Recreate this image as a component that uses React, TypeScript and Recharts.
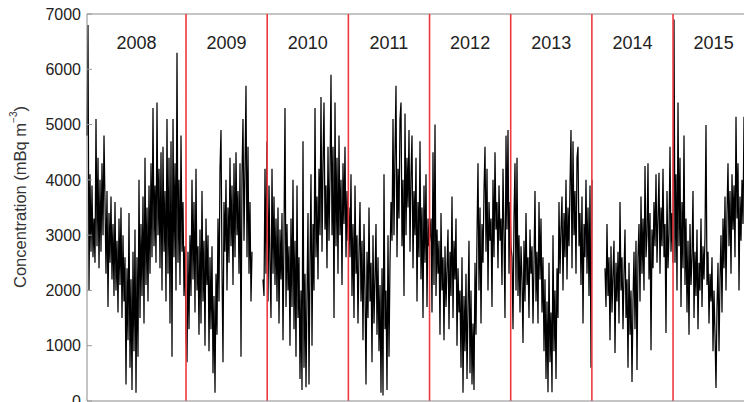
import { LineChart, Line, XAxis, YAxis, ReferenceLine, ReferenceDot } from "recharts";

// readings, one every ~4.5 days (mBq m-3); null = no data
const late2007 = [4800, 6800, 2000, 4100, 2700, 3900, 2600, 3300, 2500, 5100, 2800, 4400, 2400, 4000, 2700, 4300, 3000, 4800];

const y2008 = [
  3600, 2300, 3800, 1700, 3400, 2500, 3700, 2200,
  3200, 1900, 3600, 2000, 2900, 1600, 3300, 2100, 3500, 1500, 3000, 1800,
  2600, 300, 2400, 1100, 3400, 600, 2200, 200, 2700, 900, 3100, 150,
  2600, 800, 4000, 1500, 3200, 1900, 3700, 1400, 4400, 2100, 3500, 1800, 3900, 2300,
  4300, 2600, 5300, 2800, 3900, 2500, 5400, 3000, 4200, 2400, 4500, 2000, 4600, 2700, 3800, 1800,
  5100, 2300, 4400, 1400, 4700, 800, 5100, 2600, 4300, 2000, 6300, 2500, 4000, 2100, 4800, 2700,
  3600, 1900, 2800, 1200,
];

const y2009 = [
  700, 2700, 1300, 3000, 1900, 4000, 2200, 3600, 1600, 4200, 2000, 2800, 1200, 3100,
  1400, 3800, 1800, 2900, 1000, 3300, 2100, 3000, 900, 2600, 1300, 2800, 500, 1900, 150, 2300,
  1200, 3300, 1800, 4200, 4900, 2400, 700, 3600, 2700, 4000, 2000, 3500, 2500, 4400,
  2800, 3900, 2100, 4300, 2600, 4500, 3000, 3800, 2300, 4300, 800, 4100, 5100, 2900, 4200, 5700,
  2600, 4600, 2300, 3600, 1800, 2700,
];

const gap2009 = [null, null, null, null, null, null, null, null, null, null];

const y2010 = [
  2200, 1900, 4200, 2300, 4700, 1800, 3900, 2500, 1500, 4200, 2300, 3700, 2100, 3300,
  1800, 3500, 1400, 3100, 2200, 3400, 1100, 3000, 5300, 1700, 3200, 2000, 2800, 1000, 3300, 1700,
  4000, 1300, 2900, 800, 3900, 1500, 2600, 400, 2000, 200, 4700, 600, 2300, 250, 1900, 3400, 300, 2500,
  4100, 1000, 3200, 2000, 5300, 2600, 3700, 2200, 4200, 3000, 5500, 2700, 4300, 5400, 3100, 3900,
  2400, 4600, 2900, 4100,
  5900, 3000, 4600, 1500, 5400, 2800, 4400, 2300, 4800, 3000, 4000, 2100, 4300, 3200, 4600, 2600,
  3800, 2900, 3500,
];

const y2011 = [
  2600, 4100, 1900, 3200, 1500, 3900, 2300, 3000, 1400, 2700, 3600, 1800, 2900, 1100, 3200, 2000,
  300, 2700, 1500, 3500, 1800, 2500, 700, 3000, 1400, 2200, 3200, 1200, 2600, 900, 2100,
  150, 2400, 100, 4100, 1300, 2000, 200, 3000, 800, 2500, 3600, 2900,
  5100, 3000, 4500, 5700, 2600, 4200, 3300, 5100, 5400, 2800, 4000, 1900,
  5200, 3000, 4400, 3500, 4900, 2700, 4100, 4800, 2400, 3800, 3000, 4400, 1800, 3600, 2600, 4700,
  2200, 3500, 1500, 3900, 2500, 4100, 1700, 3300, 2800, 3000,
];

const y2012 = [
  3300, 1600, 4500, 2100, 5000, 1900, 3100, 2300, 2900, 1200, 3400, 2000, 2600, 1100,
  2800, 1700, 2400, 3100, 1300, 2700, 1900, 3700, 1500, 2900, 2200, 3300, 1000, 2400, 1600, 2000,
  600, 2600, 150, 1900, 900, 2300, 400, 1700, 2900, 500, 2000, 300, 1400, 200, 2500, 1200,
  3000, 4300, 2000, 3500, 1400, 3200, 2500, 3800, 4600, 2700, 4200, 2000, 3600, 2900, 3300, 1700,
  4000, 2600, 4500, 3100, 3600, 2400, 3900, 2900, 3300, 2100, 4200, 3000, 1500, 4800, 3100, 4900,
  2300, 3600, 2800,
];

const y2013 = [
  2600, 1300, 3300, 4300, 2000, 4400, 1900, 3000, 1600, 2800, 2200, 1050, 2900, 1800,
  3400, 2100, 2600, 1500, 3100, 2300, 2800, 1400, 2500, 3800, 1800, 2700, 1400, 3600, 2200, 3300,
  1600, 2600, 900, 2200, 400, 1800, 160, 2500, 700, 1600, 160, 3000, 900, 2000, 400, 2400,
  1500, 3600, 2300, 3100, 3700, 2000, 3400, 2600, 4000, 2200, 3500, 2800, 3900, 4900, 2400, 4700,
  3000, 3800, 2300, 4400, 4600, 2800, 3400, 2100, 3700, 1400, 3200, 2600, 4000, 2300, 3500, 1900,
  3900, 600, 4000,
];

const gap2013 = [null, null, null, null, null, null, null, null, null, null, null, null];

const y2014 = [
  2400, 1700, 3200, 1900, 2600, 1100, 2800, 1600, 2300, 2900, 870, 2500, 1800, 2700, 1400, 3600,
  2000, 2600, 1300, 2300, 3100, 1500, 2200, 600, 2500, 1200, 2000, 345, 1800, 2700, 1300, 2900,
  560, 2600, 3200, 1800, 3700, 2300, 3300, 2000, 4250, 2600, 3000, 4300, 2200, 3400, 920, 3100,
  2400, 3600, 2800, 4100, 2500, 3300, 4130, 2300, 3500, 2800, 4200, 2600, 3200, 1230, 3800, 2400,
  3000, 4600, 2700, 3400, 2500,
];

const y2015 = [
  6900, 2500, 4100, 2000, 5400, 2800, 4400, 1700, 3600, 2400, 4800, 2100, 3300, 1600, 2900, 1200,
  3200, 2100, 2600, 3800, 1500, 2700, 1900, 3100, 1300, 2500, 2000, 3300, 1700, 2800, 2200, 3000,
  4990, 2100, 2700, 1400, 2300, 1800, 2600, 900, 2000, 1200, 235, 1700, 2500, 900, 2200, 3000,
  1600, 3300, 2400, 3700, 2000, 3400, 4300, 2800, 3800, 2300, 4100, 3100, 3900, 2600, 5140, 3300,
  4300, 2000, 3700, 2900, 4000, 3200, 5140,
];

const yearLines = [2009, 2010, 2011, 2012, 2013, 2014, 2015];
const yearLabels = ["2008", "2009", "2010", "2011", "2012", "2013", "2014", "2015"];
const yTicks = [0, 1000, 2000, 3000, 4000, 5000, 6000, 7000];

const series: (number | null)[] = [
  late2007, y2008, y2009, gap2009, y2010, y2011, y2012, y2013, gap2013, y2014, y2015,
].flat();

const START = 2007.78;
const STEP = 1 / 81.17; // years between readings
const data = series.map((v, i) => ({ t: START + i * STEP, c: v }));
const END = data[data.length - 1].t;

const font = "'Liberation Sans', Arial, Helvetica, sans-serif";

function YLabel({ viewBox }: any) {
  const x = viewBox.x + 20;
  const y = viewBox.y + 183;
  return (
    <text
      x={x}
      y={y}
      transform={`rotate(-90, ${x}, ${y})`}
      textAnchor="middle"
      dominantBaseline="central"
      fontSize={16.5}
      fill="#333"
      fontFamily={font}
    >
      Concentration (mBq m
      <tspan dy={-7} fontSize={10}>−3</tspan>
      <tspan dy={7}>)</tspan>
    </text>
  );
}

export default function App() {
  return (
    <div style={{ position: "absolute", left: 0, top: 0, background: "#fff" }}>
      <LineChart width={744} height={402} data={data} margin={{ top: 14, right: 0, bottom: 0, left: 0 }}>
        <XAxis
          dataKey="t"
          type="number"
          domain={[START, END]}
          height={1}
          tick={false}
          tickLine={false}
          axisLine={{ stroke: "#8a8a8a" }}
        />
        <YAxis
          width={87}
          domain={[0, 7000]}
          ticks={yTicks}
          interval={0}
          tickSize={-5}
          tickMargin={11}
          tickLine={{ stroke: "#999" }}
          axisLine={{ stroke: "#8a8a8a" }}
          tick={{ fill: "#222", fontSize: 16, fontFamily: font }}
          label={<YLabel />}
        />
        <ReferenceLine y={7000} stroke="#8a8a8a" />
        <Line
          type="linear"
          dataKey="c"
          stroke="#000"
          strokeWidth={1.25}
          dot={false}
          isAnimationActive={false}
        />
        {yearLines.map((yr) => (
          <ReferenceLine key={yr} x={yr} stroke="#ee3a3f" strokeWidth={1.6} />
        ))}
        {yearLabels.map((lab, i) => (
          <ReferenceDot
            key={lab}
            x={i === 0 ? (START + 2009) / 2 : 2008 + i + 0.5}
            y={6490}
            r={0}
            fill="none"
            stroke="none"
            label={{ value: lab, position: "center", fontSize: 18, fill: "#222", fontFamily: font }}
          />
        ))}
      </LineChart>
    </div>
  );
}
